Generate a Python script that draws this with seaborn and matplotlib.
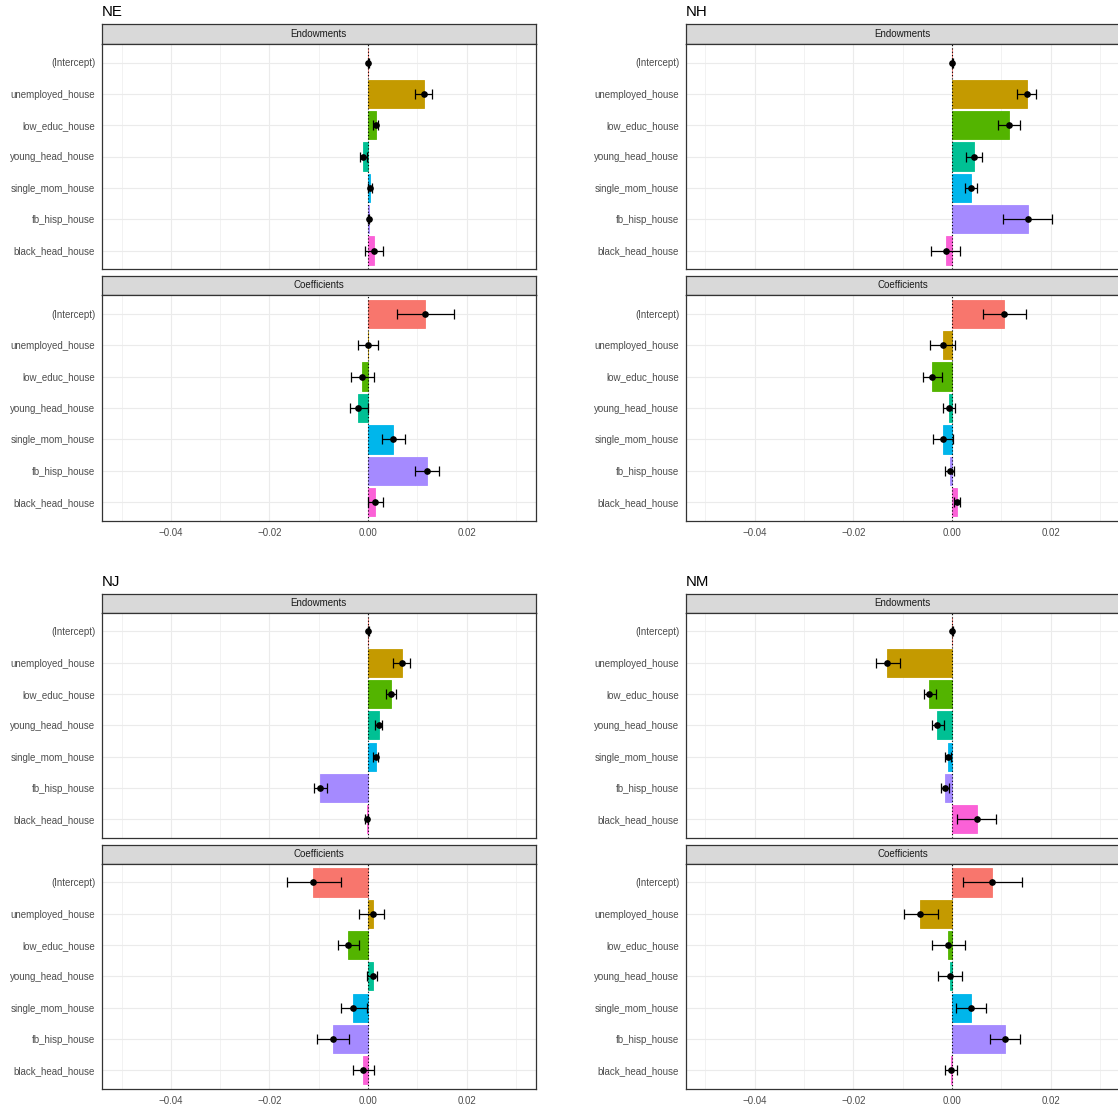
import matplotlib
matplotlib.use("Agg")
import matplotlib.pyplot as plt
import seaborn as sns
import numpy as np

# ---- data ----
TERMS = ["(Intercept)", "unemployed_house", "low_educ_house", "young_head_house",
         "single_mom_house", "fb_hisp_house", "black_head_house"]
PALETTE = ["#F8766D", "#C49A00", "#53B400", "#00C094", "#00B6EB", "#A58AFF", "#FB61D7"]
STATES = ["NE", "NH", "NJ", "NM"]
FACETS = ["Endowments", "Coefficients"]

NE_END = [0.0, 0.0114, 0.0015, -0.0010, 0.0004, 0.0001, 0.0012]
NE_END_LO = [-0.0001, 0.0096, 0.0009, -0.0017, -0.0001, -0.0001, -0.0007]
NE_END_HI = [0.0001, 0.0130, 0.0021, -0.0002, 0.0007, 0.0002, 0.0030]
NE_COEF = [0.0116, 0.0000, -0.0012, -0.0020, 0.0051, 0.0120, 0.0014]
NE_COEF_LO = [0.0058, -0.0020, -0.0034, -0.0036, 0.0028, 0.0096, -0.0001]
NE_COEF_HI = [0.0174, 0.0020, 0.0011, -0.0001, 0.0074, 0.0143, 0.0030]

NH_END = [0.0, 0.0152, 0.0116, 0.0045, 0.0039, 0.0154, -0.0013]
NH_END_LO = [-0.0001, 0.0131, 0.0093, 0.0028, 0.0027, 0.0104, -0.0042]
NH_END_HI = [0.0001, 0.0170, 0.0138, 0.0060, 0.0050, 0.0203, 0.0017]
NH_COEF = [0.0106, -0.0019, -0.0040, -0.0007, -0.0019, -0.0005, 0.0010]
NH_COEF_LO = [0.0062, -0.0045, -0.0059, -0.0019, -0.0038, -0.0014, 0.0004]
NH_COEF_HI = [0.0150, 0.0006, -0.0020, 0.0006, 0.0001, 0.0004, 0.0016]

NJ_END = [0.0, 0.0069, 0.0047, 0.0022, 0.0016, -0.0097, -0.0003]
NJ_END_LO = [-0.0001, 0.0051, 0.0036, 0.0013, 0.0010, -0.0110, -0.0006]
NJ_END_HI = [0.0001, 0.0084, 0.0056, 0.0029, 0.0021, -0.0084, 0.0000]
NJ_COEF = [-0.0112, 0.0009, -0.0040, 0.0009, -0.0030, -0.0072, -0.0010]
NJ_COEF_LO = [-0.0165, -0.0018, -0.0061, -0.0002, -0.0056, -0.0104, -0.0030]
NJ_COEF_HI = [-0.0056, 0.0033, -0.0018, 0.0018, -0.0002, -0.0038, 0.0012]

NM_END = [0.0, -0.0131, -0.0046, -0.0030, -0.0009, -0.0015, 0.0051]
NM_END_LO = [-0.0001, -0.0155, -0.0056, -0.0040, -0.0014, -0.0022, 0.0011]
NM_END_HI = [0.0001, -0.0105, -0.0032, -0.0017, -0.0003, -0.0007, 0.0090]
NM_COEF = [0.0082, -0.0064, -0.0008, -0.0005, 0.0039, 0.0108, -0.0002]
NM_COEF_LO = [0.0022, -0.0098, -0.0041, -0.0029, 0.0009, 0.0078, -0.0015]
NM_COEF_HI = [0.0142, -0.0028, 0.0027, 0.0021, 0.0068, 0.0138, 0.0011]

XTICKS = [-0.04, -0.02, 0.0, 0.02]
XTICK_LABELS = ["\u22120.04", "\u22120.02", "0.00", "0.02"]
XMINOR = [-0.05, -0.03, -0.01, 0.01, 0.03]

state_data = {
    "NE": [(NE_END, NE_END_LO, NE_END_HI), (NE_COEF, NE_COEF_LO, NE_COEF_HI)],
    "NH": [(NH_END, NH_END_LO, NH_END_HI), (NH_COEF, NH_COEF_LO, NH_COEF_HI)],
    "NJ": [(NJ_END, NJ_END_LO, NJ_END_HI), (NJ_COEF, NJ_COEF_LO, NJ_COEF_HI)],
    "NM": [(NM_END, NM_END_LO, NM_END_HI), (NM_COEF, NM_COEF_LO, NM_COEF_HI)],
}

# ---- layout (pixels) ----
W, H = 1118, 1110
COL_X = [101.8, 685.7]
PANEL_W = 434.0
ROWS = [
    dict(title=12.5, strips=[(24.3, 43.7), (275.7, 295.0)], panels=[(43.7, 269.3), (295.0, 521.0)]),
    dict(title=581.5, strips=[(593.7, 612.7), (844.7, 863.7)], panels=[(612.7, 838.0), (863.7, 1089.0)]),
]

sns.set_style("white")
plt.rcParams["font.family"] = ["Liberation Sans", "DejaVu Sans"]

fig = plt.figure(figsize=(W / 100, H / 100), dpi=100)


def rect(x0, y0, x1, y1):
    return [x0 / W, 1 - y1 / H, (x1 - x0) / W, (y1 - y0) / H]


def style_frame(ax):
    for s in ax.spines.values():
        s.set_visible(True)
        s.set_color("#333333")
        s.set_linewidth(0.9)


for i, state in enumerate(STATES):
    col, row = i % 2, i // 2
    x0 = COL_X[col]
    x1 = x0 + PANEL_W
    lay = ROWS[row]
    fig.text(x0 / W, 1 - lay["title"] / H, state, fontsize=10.8, color="black",
             ha="left", va="center")

    for f, facet in enumerate(FACETS):
        est, lo, hi = state_data[state][f]
        sy0, sy1 = lay["strips"][f]
        py0, py1 = lay["panels"][f]

        # strip
        sax = fig.add_axes(rect(x0, sy0, x1, sy1))
        sax.set_facecolor("#D9D9D9")
        sax.set_xticks([])
        sax.set_yticks([])
        style_frame(sax)
        sax.text(0.5, 0.5, facet, transform=sax.transAxes, ha="center", va="center",
                 fontsize=7, color="#1A1A1A")

        # panel
        ax = fig.add_axes(rect(x0, py0, x1, py1))
        ax.set_axisbelow(True)
        sns.barplot(x=est, y=TERMS, hue=TERMS, palette=PALETTE, orient="h",
                    width=0.9, saturation=1, errorbar=None, legend=False, ax=ax)
        for p in ax.patches:
            p.set_edgecolor(p.get_facecolor())
            p.set_linewidth(0.6)
        ax.axvline(0, color="black", linestyle=(0, (1, 2)), linewidth=0.8, zorder=3)
        est_a = np.array(est)
        xerr = [est_a - np.array(lo), np.array(hi) - est_a]
        ax.errorbar(est_a, np.arange(len(TERMS)), xerr=xerr, fmt="o", color="black",
                    markersize=3.8, elinewidth=0.9, capsize=3.4, capthick=0.9, zorder=4)

        ax.set_xlim(-0.054, 0.034)
        ax.set_ylim(6.6, -0.6)
        ax.set_xlabel("")
        ax.set_ylabel("")
        ax.set_xticks(XTICKS)
        ax.set_xticks(XMINOR, minor=True)
        ax.grid(True, which="major", color="#EBEBEB", linewidth=0.8)
        ax.grid(True, which="minor", axis="x", color="#EBEBEB", linewidth=0.45)
        ax.tick_params(axis="both", which="major", length=2.7, width=0.7, color="#333333",
                       labelsize=7, labelcolor="#4D4D4D", pad=2)
        ax.tick_params(axis="x", which="minor", length=0)
        if f == 1:
            ax.set_xticklabels(XTICK_LABELS)
        else:
            ax.tick_params(axis="x", which="major", length=0, labelbottom=False)
        style_frame(ax)

fig.savefig("out.png", dpi=100)
